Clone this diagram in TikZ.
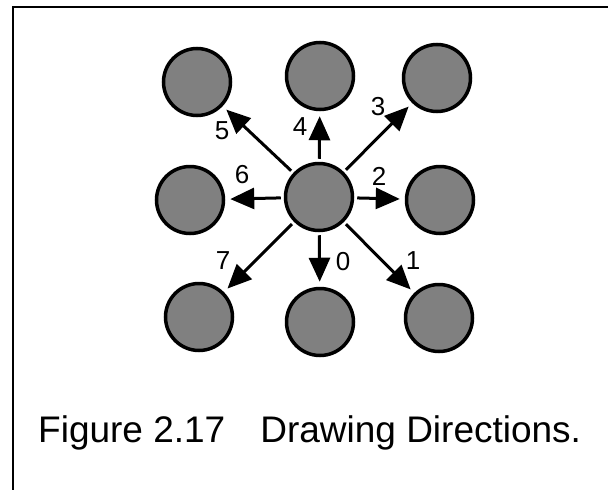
\documentclass[tikz,border=0pt]{standalone}
\usepackage{fontspec}
\setmainfont{Liberation Sans}
\usetikzlibrary{arrows.meta}
\begin{document}
\begin{tikzpicture}[x=1pt,y=-1pt,
  dot/.style={circle,draw=black,line width=3.5pt,fill=black!50,minimum size=67pt,inner sep=0pt},
  dirarrow/.style={line width=3pt,-{Triangle[length=24pt,width=21pt]},shorten <=3pt,shorten >=5pt},
  lbl/.style={font=\fontsize{26}{29}\selectfont,inner sep=0pt},
  frameline/.style={line width=2pt}]
\useasboundingbox (0,0) rectangle (608,490);
\coordinate (fb) at (13,490);
\coordinate (fc) at (13,7);
\coordinate (fr) at (608,7);
\draw[frameline] (fb) -- (fc) -- (fr);
% circles
\node[dot] (c)  at (319,197) {};
\node[dot] (d5) at (197,82) {};
\node[dot] (d4) at (320,76) {};
\node[dot] (d3) at (437,78) {};
\node[dot] (d6) at (190,200) {};
\node[dot] (d2) at (440,200) {};
\node[dot] (d7) at (199,317) {};
\node[dot] (d0) at (320,322) {};
\node[dot] (d1) at (439,318) {};
% arrows
\foreach \k in {0,...,7} {\draw[dirarrow] (c) -- (d\k);}
% labels
\node[lbl] (l5) at (222,131) {5};
\node[lbl] (l4) at (300,127) {4};
\node[lbl] (l3) at (378,107) {3};
\node[lbl] (l6) at (242,175) {6};
\node[lbl] (l2) at (379,176) {2};
\node[lbl] (l7) at (223,261) {7};
\node[lbl] (l0) at (343,262) {0};
\node[lbl] (l1) at (413,261) {1};
% caption
\node[anchor=base west,inner sep=0pt,font=\fontsize{37}{42}\selectfont] (cap) at (38,442) {Figure 2.17\hspace{35pt}Drawing Directions.};
\end{tikzpicture}
\end{document}
